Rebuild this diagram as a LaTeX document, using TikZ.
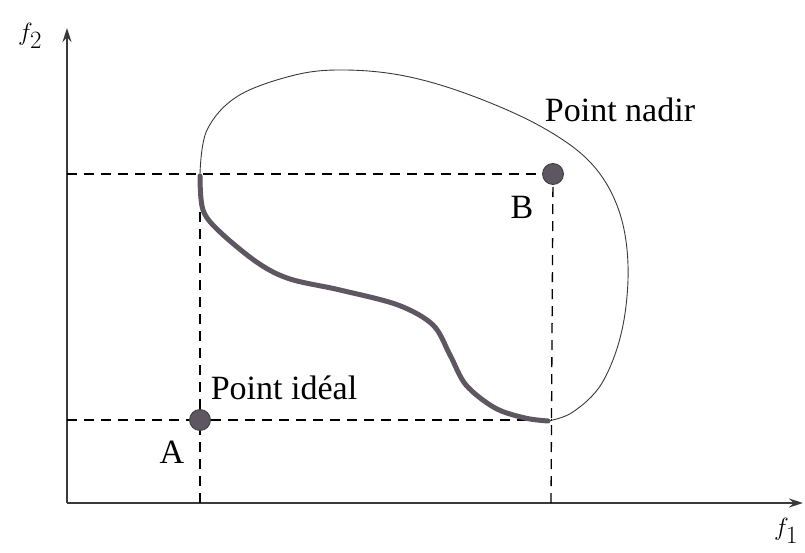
\documentclass[tikz,border=0pt]{standalone}
\usepackage{fontspec}
\setmainfont{Liberation Serif}
\usetikzlibrary{arrows.meta,positioning}
\definecolor{Ink}{HTML}{3A3A3A}
\definecolor{Dot}{HTML}{5E5660}

\begin{document}
\begin{tikzpicture}[x=1pt,y=-1pt,>={Stealth[length=14pt,width=9pt]}]
    \tikzset{
      axis/.style={->,line width=1.6pt,draw=Ink},
      guide/.style={dashed,dash pattern=on 10pt off 7pt,line width=1.3pt,draw=black},
      pt/.style={circle,fill=Dot,draw=Ink,line width=0.8pt,minimum size=21pt,inner sep=0pt},
      lbl/.style={font=\fontsize{34}{40}\selectfont,text=black},
      axlbl/.style={font=\fontsize{36}{40}\selectfont,text=black,inner sep=1pt},
      front/.style={line width=5pt,draw=Dot,line cap=round}
    }
    \useasboundingbox (0,0) rectangle (805,553);
    % axes
    \coordinate (O) at (67,503);
    \coordinate (ytop) at (67,28);
    \coordinate (xend) at (803,503);
    \draw[axis] (O) -- (ytop);
    \draw[axis] (O) -- (xend);
    \node[axlbl] (f2) at (30,36) {$f_2$};
    \node[axlbl] (f1) at (786,531) {$f_1$};
    % ideal and nadir points
    \node[pt] (A) at (200,420) {};
    \node[pt] (B) at (553,174) {};
    \coordinate (Ax) at (200,503);
    \coordinate (Ay) at (67,420);
    \coordinate (Bx) at (551,503);
    \coordinate (By) at (67,174);
    \coordinate (Atop) at (200,174);
    \coordinate (Bend) at (551,420);
    \draw[guide] (Ay) -- (A) -- (Bend);
    \draw[guide] (Ax) -- (A) -- (Atop);
    \draw[guide] (By) -- (B);
    \draw[guide] (Bx) -- (B);
    \node[lbl] (ideal) at (284,388) {Point idéal};
    \node[lbl] (labA) at (172,452) {A};
    \node[lbl] (nadir) at (620,110) {Point nadir};
    \node[lbl] (labB) at (522,207) {B};
    % feasible region
    \draw[line width=0.9pt,draw=Ink] plot[smooth,tension=0.6] coordinates {
      (200,174) (207,130) (238,96) (295,75) (345,70) (405,76)
      (470,95) (540,126) (590,162) (618,208) (628,265) (622,330)
      (602,383) (573,412) (548,421)};
    % pareto front
    \draw[front] plot[smooth,tension=0.55] coordinates {
      (200,176) (203,210) (220,232) (258,263) (290,279) (340,290)
      (398,305) (433,325) (450,355) (466,385) (495,408) (525,418) (548,421)};
  \end{tikzpicture}
\end{document}
